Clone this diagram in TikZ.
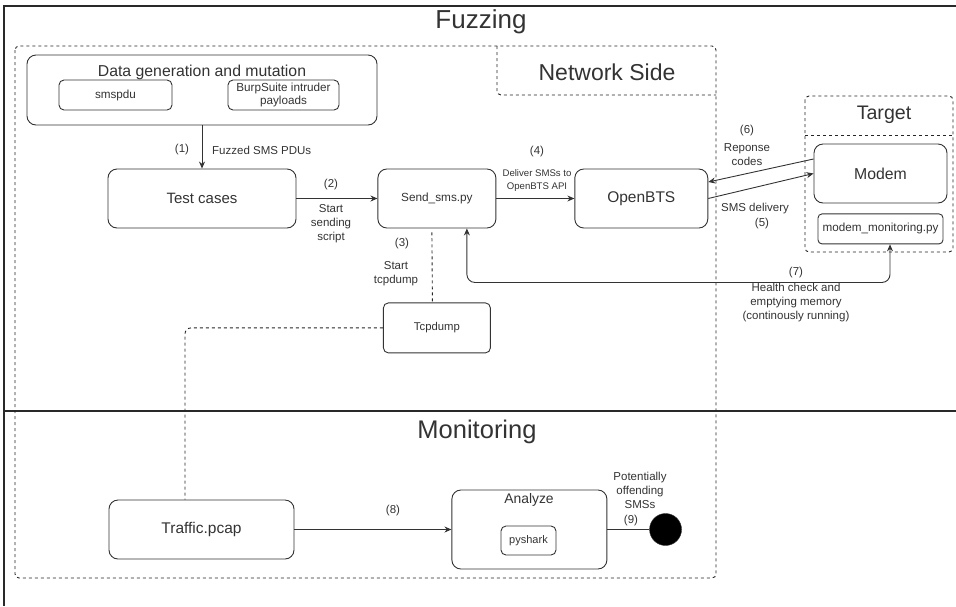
\documentclass[tikz,border=0pt]{standalone}
\usepackage{fontspec}
\setmainfont{Liberation Sans}
\usetikzlibrary{positioning,arrows.meta}
\definecolor{ink}{HTML}{333333}

\begin{document}
\begin{tikzpicture}[x=1pt, y=-1pt,
    box/.style={draw=ink, text=ink, line width=0.9pt, rounded corners=9pt, inner sep=0pt, align=center, font=\fontsize{15.5}{18}\selectfont},
    smallbox/.style={box, rounded corners=5pt, font=\fontsize{11.7}{13.5}\selectfont},
    lbl/.style={text=ink, inner sep=0pt, align=center, font=\fontsize{11.5}{14}\selectfont},
    title/.style={text=ink, inner sep=0pt},
    flow/.style={draw=ink, line width=0.9pt, -{Stealth[length=7pt,width=6pt]}},
    lane/.style={draw=black!85, line width=0.9pt, dash pattern=on 3pt off 3pt},
    frame/.style={draw=ink!80!black, line width=1.2pt}]

    \useasboundingbox (0,0) rectangle (956,606);

    % outer frame and the two lanes
    \draw[frame] (956,6) -- (4,6) -- (4,606);
    \draw[frame] (4,411) -- (956,411);
    \node[title, font=\fontsize{26}{30}\selectfont] (fuzzing) at (481,22) {Fuzzing};
    \node[title, font=\fontsize{25.5}{30}\selectfont] (monitoring) at (477,432) {Monitoring};

    % network side container
    \draw[lane, rounded corners=4pt] (15,46) rectangle (716,578);
    \draw[lane, rounded corners=4pt] (497,46) -- (497,95) -- (716,95);
    \node[title, font=\fontsize{23}{27}\selectfont] (netside) at (607,72) {Network Side};

    % target container
    \draw[lane, rounded corners=4pt] (805,96) rectangle (953,252);
    \draw[lane] (805,135) -- (953,135);
    \node[title, font=\fontsize{19.6}{23}\selectfont] (target) at (884,115) {Target};

    % data generation
    \node[box, minimum width=350pt, minimum height=70pt] (datagen) at (202,90) {};
    \node[title, font=\fontsize{15.8}{18}\selectfont] (datatitle) at (202,72) {Data generation and mutation};
    \node[smallbox, minimum width=113pt, minimum height=30pt] (smspdu) at (115.5,95) {smspdu};
    \node[smallbox, minimum width=111pt, minimum height=30pt, font=\fontsize{11.7}{12.5}\selectfont] (burp) at (283.5,95) {BurpSuite intruder\\payloads};

    % sending chain
    \node[box, minimum width=188pt, minimum height=59pt, font=\fontsize{15}{18}\selectfont] (tests) at (202,198.5) {Test cases};
    \node[box, minimum width=118pt, minimum height=59pt, font=\fontsize{11.8}{14}\selectfont] (send) [right=81pt of tests] {Send\_sms.py};
    \node[box, minimum width=133pt, minimum height=59pt] (openbts) [right=78pt of send] {OpenBTS};
    \node[smallbox, minimum width=107pt, minimum height=50pt, font=\fontsize{11.3}{13}\selectfont] (tcpdump) [below=74pt of send] {Tcpdump};

    % target side
    \node[box, minimum width=133pt, minimum height=59pt, font=\fontsize{15.8}{18}\selectfont] (modem) at (880.5,173.5) {Modem};
    \node[smallbox, rounded corners=4pt, minimum width=125pt, minimum height=30pt] (modmon) [below=10pt of modem] {modem\_monitoring.py};

    % monitoring
    \node[box, minimum width=185pt, minimum height=59pt] (traffic) at (201.5,529.5) {Traffic.pcap};
    \node[box, minimum width=155pt, minimum height=79pt] (analyze) [right=157pt of traffic] {};
    \node[title, font=\fontsize{13.9}{16}\selectfont] (analyzetitle) at (529,500) {Analyze};
    \node[smallbox, minimum width=55pt, minimum height=29pt, font=\fontsize{11}{13}\selectfont] (pyshark) at (528.5,540.5) {pyshark};
    \node[circle, fill=black, draw=ink, minimum size=32pt, inner sep=0pt] (stop) [right=42pt of analyze] {};

    % connectors
    \draw[flow] (datagen) -- (tests);
    \draw[flow] (tests) -- (send);
    \draw[flow] (send) -- (openbts);
    \draw[flow] ([yshift=14.5pt]modem.west) -- ([yshift=16.5pt]openbts.east);
    \draw[flow] (openbts.east) -- (modem.west);
    \draw[draw=ink, line width=0.9pt, {Stealth[length=7pt,width=6pt]}-{Stealth[length=7pt,width=6pt]}, rounded corners=8pt]
        ([xshift=30pt]send.south) -- ++(0,54) -| ([xshift=9.5pt]modmon.south);
    \draw[lane] ([xshift=-5pt,yshift=-4pt]send.south) -- ([xshift=-4.5pt]tcpdump.north);
    \draw[lane, rounded corners=6pt] (tcpdump.west) -| ([xshift=-16.5pt]traffic.north);
    \draw[flow] (traffic) -- (analyze);
    \draw[draw=ink, line width=0.9pt] (analyze.east) -- (stop.west);

    % connector labels
    \node[lbl] (n1) at (182,150) {(1)};
    \node[lbl, anchor=west] (t1) at (212,150) {Fuzzed SMS PDUs};
    \node[lbl] (n2) at (331,185) {(2)};
    \node[lbl] (t2) at (331,223.5) {Start\\sending\\script};
    \node[lbl] (n3) at (402,244) {(3)};
    \node[lbl] (t3) at (396,273.5) {Start\\tcpdump};
    \node[lbl] (n4) at (537,152) {(4)};
    \node[lbl, font=\fontsize{9.6}{13}\selectfont] (t4) at (537,180.5) {Deliver SMSs to\\OpenBTS API};
    \node[lbl] (n6) at (747,131) {(6)};
    \node[lbl] (t6) at (747,155) {Reponse\\codes};
    \node[lbl] (t5) at (755,209) {SMS delivery};
    \node[lbl] (n5) at (762,224) {(5)};
    \node[lbl] (n7) at (796,273) {(7)};
    \node[lbl] (t7) at (796,302.5) {Health check and\\emptying memory\\(continously running)};
    \node[lbl] (n8) at (393,511) {(8)};
    \node[lbl] (t9) at (640,490.5) {Potentially\\offending\\SMSs};
    \node[lbl] (n9) at (631,520.5) {(9)};

\end{tikzpicture}
\end{document}
